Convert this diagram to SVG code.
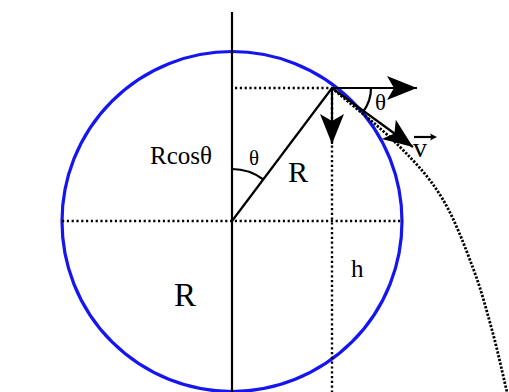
<svg xmlns="http://www.w3.org/2000/svg" width="509" height="392" viewBox="0 0 509 392">
<style>
.ln{stroke:#000;stroke-width:2.2;fill:none}
.dot{stroke:#000;stroke-width:2.4;fill:none;stroke-dasharray:2.2 2.6}
.traj{stroke:#000;stroke-width:2.8;fill:none;stroke-dasharray:2.3 1.6}
.t{font-family:"Liberation Serif","Times New Roman",serif;fill:#000}
</style>
<defs>
<marker id="ah" markerUnits="userSpaceOnUse" markerWidth="40" markerHeight="30" viewBox="-32 -15 34 30" refX="0" refY="0" orient="auto">
<path d="M0,0 L-30,-12 L-23,0 L-30,12 Z" fill="#000"/>
</marker>
</defs>
<rect width="509" height="392" fill="#fff"/>
<g id="circle">
<circle cx="232" cy="221.5" r="170" fill="none" stroke="#1515f0" stroke-width="3.2"/>
</g>
<g id="connectors">
<line class="ln" x1="232" y1="12" x2="232" y2="392"/>
<line class="dot" x1="62" y1="221" x2="403" y2="221"/>
<line class="dot" x1="235" y1="88" x2="332" y2="88"/>
<line class="dot" x1="332" y1="88" x2="332" y2="392"/>
<line class="ln" x1="232" y1="221" x2="332" y2="88"/>
<path class="ln" d="M232,169 A52,52 0 0 1 263.3,179.5"/>
<path class="ln" d="M371,88 A39,39 0 0 1 363.2,111.5"/>
<path class="traj" d="M332,88 C354,107 379.7,126.7 398,145 C416.3,163.3 429.5,177.5 442,198 C454.5,218.5 464.7,246 473,268 C481.3,290 486.3,309.3 492,330 C497.7,350.7 502,371.3 507,392 L509,400"/>
<line class="ln" x1="332" y1="88" x2="417" y2="88" marker-end="url(#ah)"/>
<line class="ln" x1="332" y1="88" x2="332" y2="144" marker-end="url(#ah)"/>
<line class="ln" x1="332" y1="88" x2="413" y2="147" marker-end="url(#ah)"/>
<line class="ln" x1="414" y1="137" x2="434" y2="137" stroke-width="1.6"/>
<path d="M437,137 L430,133.5 L431.5,137 L430,140.5 Z" fill="#000"/>
</g>
<g id="labels">
<text class="t" x="150" y="164" font-size="25">Rcosθ</text>
<text class="t" x="249" y="165" font-size="21">θ</text>
<text class="t" x="288" y="182" font-size="30">R</text>
<text class="t" x="375" y="110" font-size="23">θ</text>
<text class="t" x="413" y="157" font-size="28">v</text>
<text class="t" x="351" y="277" font-size="25">h</text>
<text class="t" x="174" y="306" font-size="33">R</text>
</g>
</svg>
